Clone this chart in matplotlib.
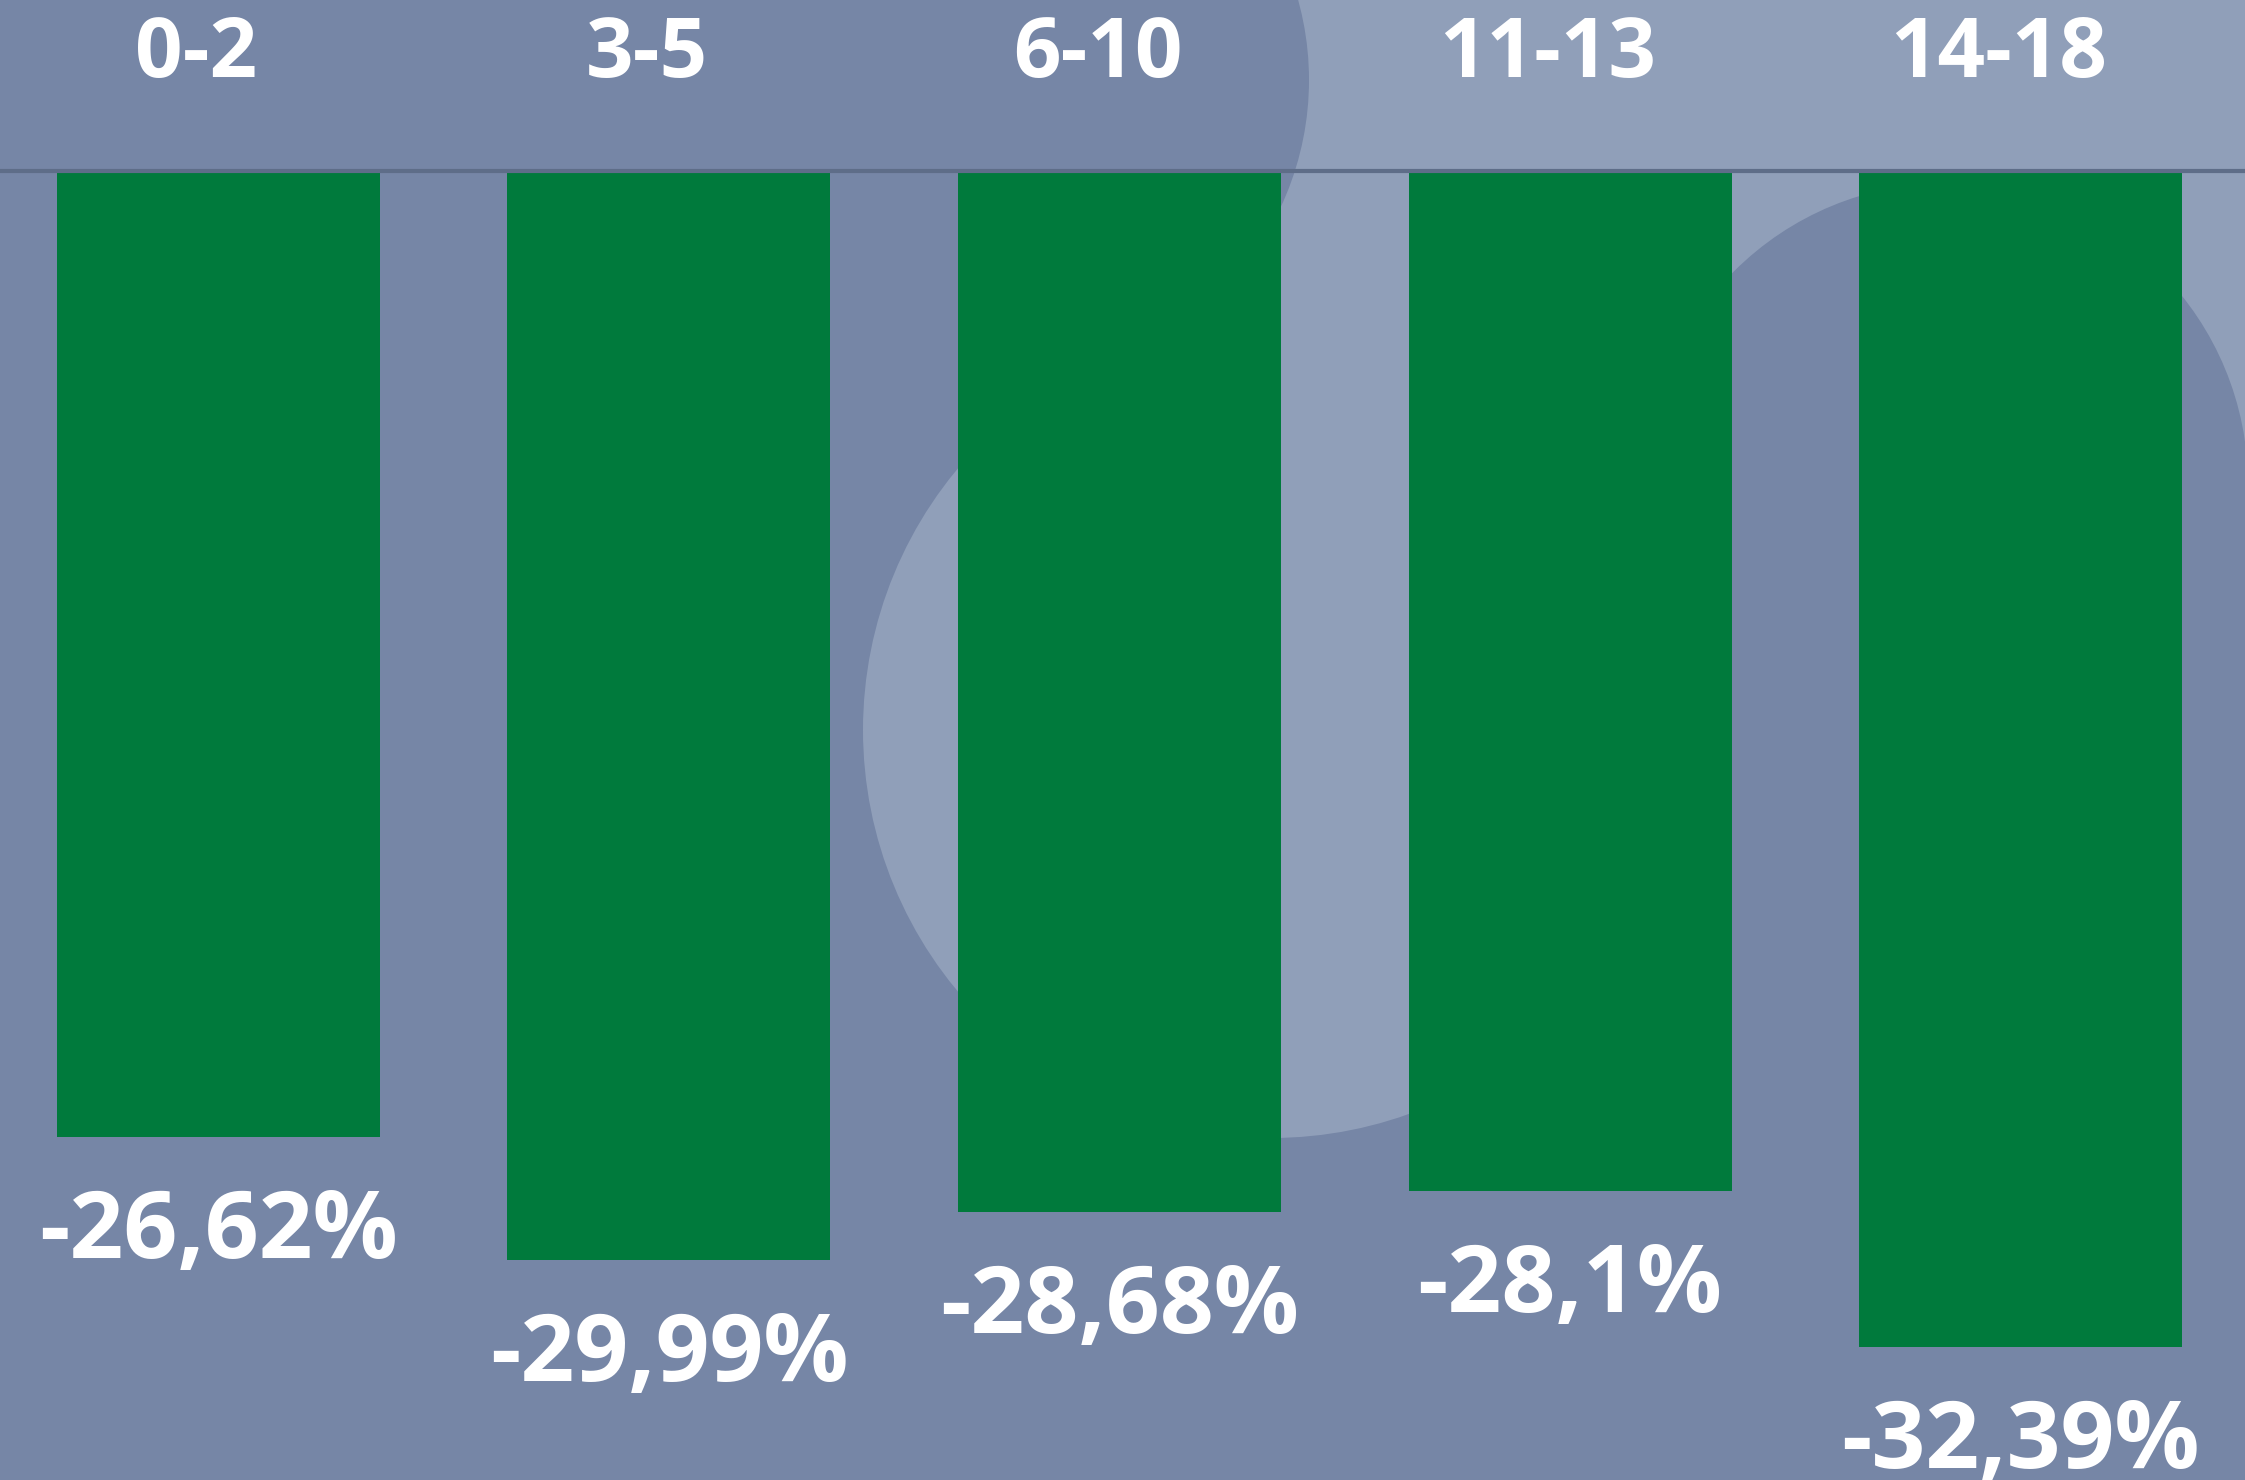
import numpy as np
import matplotlib
matplotlib.use("Agg")
import matplotlib.pyplot as plt
from matplotlib.patches import Circle, Rectangle

# ---- data ----
categories = ["0-2", "3-5", "6-10", "11-13", "14-18"]
values = [-26.62, -29.99, -28.68, -28.1, -32.39]

# ---- style ----
DARK = "#7686A6"
LIGHT = "#909FB9"
GREEN = "#007A3C"
LINE = "#5E6D88"
FONT = ["Open Sans", "DejaVu Sans"]

W, H = 2245, 1480
fig = plt.figure(figsize=(W / 100, H / 100), dpi=100)

# background decoration (pixel coordinates)
bg = fig.add_axes([0, 0, 1, 1])
bg.set_xlim(0, W)
bg.set_ylim(H, 0)
bg.axis("off")
bg.set_zorder(0)
bg.add_patch(Rectangle((0, 0), W, H, color=DARK, lw=0))
bg.add_patch(Circle((1790, 0), 656, color=LIGHT, lw=0))
bg.add_patch(Circle((1009, 80), 300, color=DARK, lw=0))
bg.add_patch(Circle((1947, 484), 301, color=DARK, lw=0))
bg.add_patch(Circle((1271, 730), 408, color=LIGHT, lw=0))

# main chart
zero_px = 171
px_per_unit = 36.3
ax = fig.add_axes([0, 0, 1, 1 - zero_px / H])
ax.set_zorder(1)
ax.patch.set_alpha(0)
x = np.arange(len(categories))
ax.bar(x, values, width=0.717, color=GREEN, lw=0, zorder=1)
ax.set_xlim(-0.4845, 4.498)
ax.set_ylim(-(H - zero_px) / px_per_unit, 0)
for s in ["left", "right", "bottom"]:
    ax.spines[s].set_visible(False)
ax.spines["top"].set_color(LINE)
ax.spines["top"].set_linewidth(3.0)
ax.spines["top"].set_zorder(3)
ax.set_xticks([])
ax.set_yticks([])

for i, (c, v) in enumerate(zip(categories, values)):
    lab = f"{v:g}".replace(".", ",") + "%"
    ax.annotate(lab, xy=(i, v), xytext=(0, -121), textcoords="offset pixels",
                ha="center", va="baseline", fontsize=68, fontweight="bold",
                color="white", family=FONT, annotation_clip=False)
    ax.annotate(c, xy=(i, 0), xytext=(-22, 94), textcoords="offset pixels",
                ha="center", va="baseline", fontsize=60, fontweight="bold",
                color="white", family=FONT, annotation_clip=False)

fig.savefig("out.png", dpi=100)
